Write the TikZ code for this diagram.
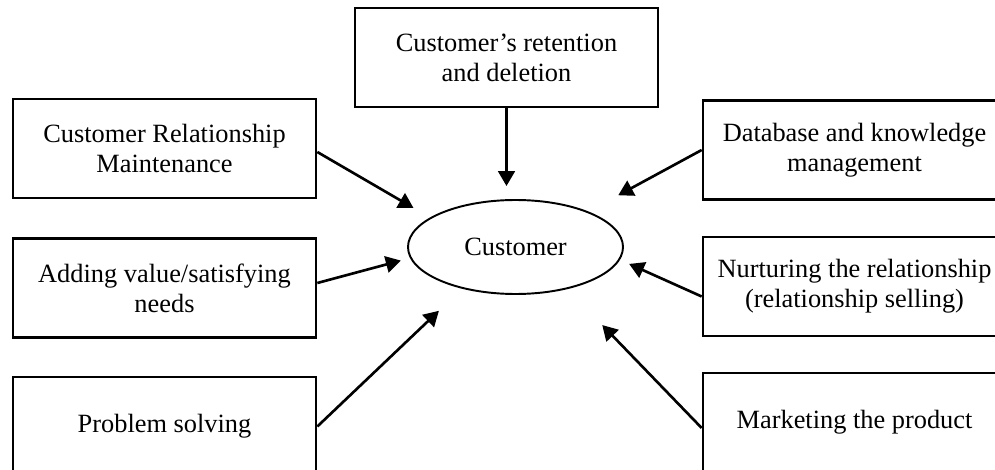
\documentclass[tikz,border=0pt]{standalone}
\usepackage{fontspec}
\setmainfont{Liberation Serif}
\usetikzlibrary{shapes.geometric, arrows.meta}

\begin{document}
\begin{tikzpicture}[
    box/.style={draw, line width=1.5pt, minimum width=6.06cm, minimum height=1.98cm,
        inner sep=0pt, align=center, font=\fontsize{15}{17}\selectfont},
    flow/.style={line width=1.5pt, -{Triangle[length=8.5pt, width=9.5pt]}}
]
\useasboundingbox (0,0) rectangle (19.9,9.38);
\clip (0,0) rectangle (19.9,9.38);

% Customer in the middle
\node[draw, ellipse, line width=1.1pt, minimum width=4.3cm, minimum height=1.88cm,
    font=\fontsize{15}{17}\selectfont] (cust) at (10.31,4.44) {Customer};

% Activities around the customer
\node[box] (retain) at (10.13,8.23) {Customer's retention\\and deletion};
\node[box] (maintain) at (3.29,6.41) {Customer Relationship\\Maintenance};
\node[box] (value) at (3.29,3.62) {Adding value/satisfying\\needs};
\node[box] (problem) at (3.29,0.85) {Problem solving};
\node[box] (database) at (17.09,6.38) {Database and knowledge\\management};
\node[box] (nurture) at (17.09,3.65) {Nurturing the relationship\\(relationship selling)};
\node[box] (market) at (17.09,0.93) {Marketing the product};

% Arrows pointing in to the customer
\draw[flow, shorten >=0.26cm] (retain.south) -- (retain.south |- cust.north);
\draw[flow, shorten >=0.38cm] ([yshift=-0.07cm]maintain.east) -- (cust.161);
\draw[flow, shorten >=0.19cm] ([yshift=0.1cm]value.east) -- (cust.186);
\draw[flow, shorten >=0.64cm] (problem.east) -- (cust.218);
\draw[flow, shorten >=0.68cm] (database.west) -- (cust.26);
\draw[flow, shorten >=0.2cm] ([yshift=-0.2cm]nurture.west) -- (cust.353);
\draw[flow, shorten >=1.0cm] ([yshift=-0.11cm]market.west) -- (cust.321);
\end{tikzpicture}
\end{document}
